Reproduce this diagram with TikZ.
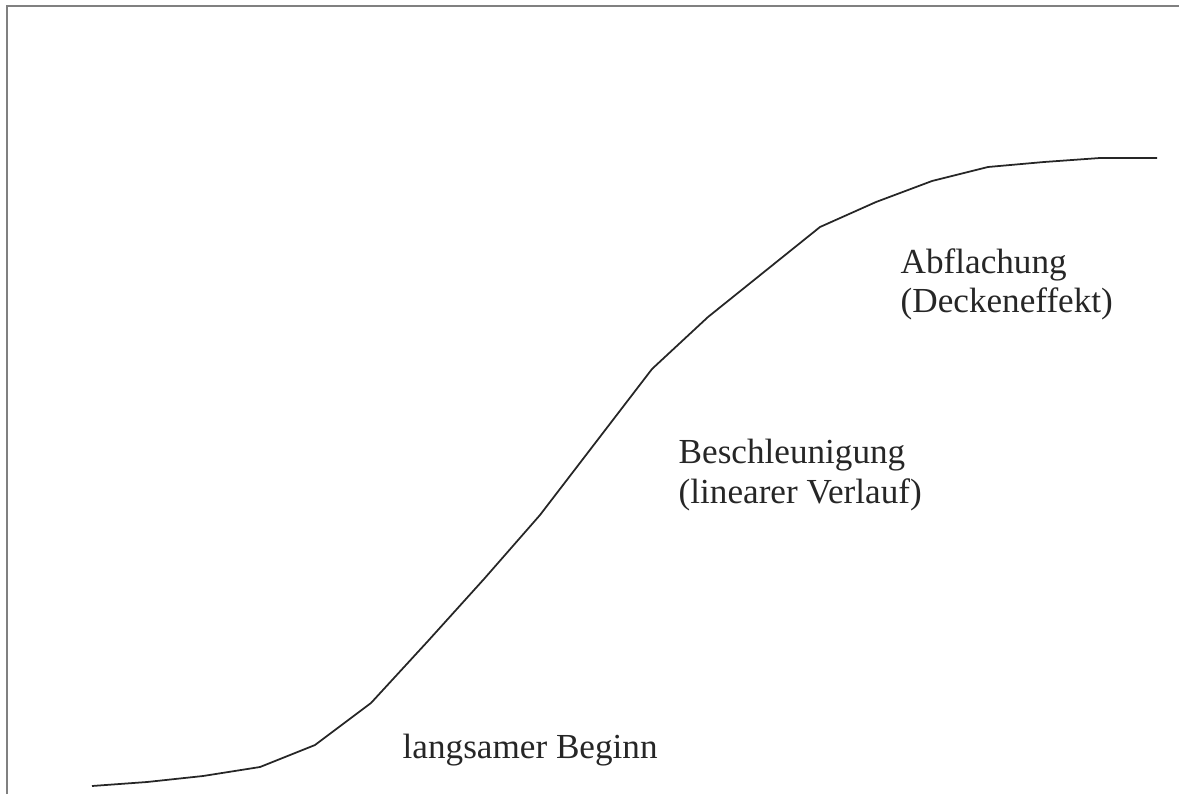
\documentclass[tikz,border=0pt]{standalone}
\usepackage{fontspec}
\setmainfont{Liberation Serif}
\usepackage{tikz}
\usetikzlibrary{positioning}

\tikzset{
  phase/.style={anchor=base west, inner sep=0pt, text=black!85,
    font=\fontsize{10}{11.5}\selectfont},
}

\begin{document}
\begin{tikzpicture}[x=0.01cm,y=-0.01cm]
    \useasboundingbox (0,0) rectangle (1179,794);
    \draw[gray, line width=0.85pt] (7,794) -- (7,6) -- (1179,6);
    \draw[black!85, line width=0.5pt, line join=round] plot coordinates {
      (92,786) (147,782) (203,776) (260,767) (315,745) (371,703)
      (428,641) (484,579) (540,515) (596,442) (652,369) (708,317)
      (764,272) (820,227) (876,202) (932,181) (988,167) (1044,162)
      (1100,158) (1157,158)};
    \node[phase] (beginn) at (402,758) {langsamer Beginn};
    \node[phase] (beschl) at (678,463) {Beschleunigung};
    \node[phase] (linear) at (678,503) {(linearer Verlauf)};
    \node[phase] (abfl) at (900,273) {Abflachung};
    \node[phase] (decke) at (900,312) {(Deckeneffekt)};
\end{tikzpicture}
\end{document}
